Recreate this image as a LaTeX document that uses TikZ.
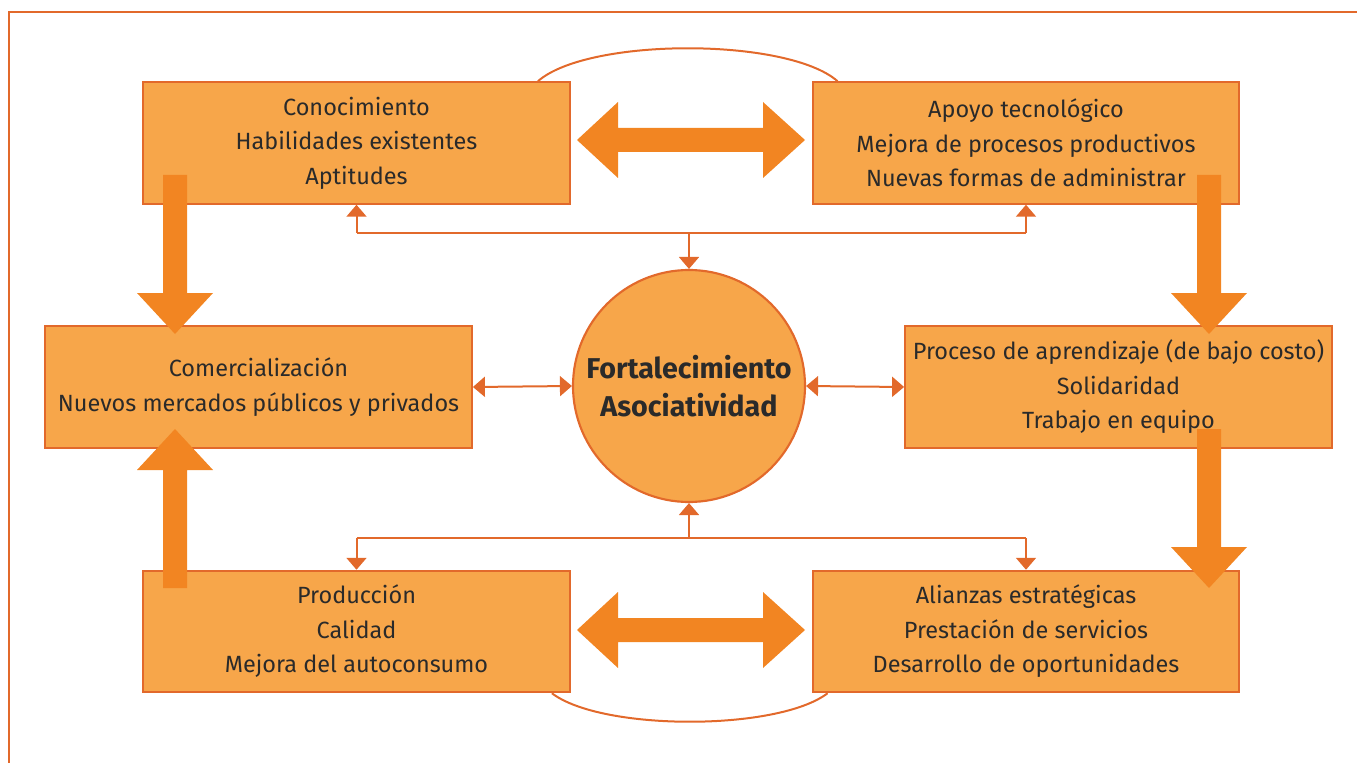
\documentclass[tikz,border=0pt]{standalone}
\usepackage{fontspec}
\setmainfont{Fira Sans}
\usepackage{tikz}
\usetikzlibrary{calc,arrows.meta}
\definecolor{boxfill}{HTML}{F7A64A}
\definecolor{boxline}{HTML}{E2692B}
\definecolor{bigarr}{HTML}{F28522}
\definecolor{txt}{HTML}{2A2A2A}

\begin{document}
\begin{tikzpicture}[x=0.75pt,y=-0.75pt,
	box/.style={draw=boxline,line width=1.6pt,fill=boxfill,minimum width=320pt,minimum height=91pt,inner sep=0pt,align=center,text=txt,font=\fontsize{17.6}{25.9}\selectfont},
	thin/.style={draw=boxline,line width=1.5pt},
	tip/.style={-{Triangle[width=15pt,length=9pt]}},
	tips/.style={{Triangle[width=15pt,length=9pt]}-{Triangle[width=15pt,length=9pt]}}]
			\clip (0,0) rectangle (1357,763);
			%frame
			\draw[boxline,line width=1.8pt] (9,12) rectangle (1420,820);
			
			%boxes
			\node[box] (b1) at (356.5,143) {Conocimiento\\Habilidades existentes\\Aptitudes};
			\node[box] (b2) at (1026,143) {Apoyo tecnológico\\Mejora de procesos productivos\\Nuevas formas de administrar};
			\node[box] (b3) at (258.5,387) {Comercialización\\Nuevos mercados públicos y privados};
			\node[box] (b4) at (1118.5,387) {Proceso de aprendizaje (de bajo costo)\\Solidaridad\\Trabajo en equipo};
			\node[box] (b5) at (356.5,631.5) {Producción\\Calidad\\Mejora del autoconsumo};
			\node[box] (b6) at (1026,631.5) {Alianzas estratégicas\\Prestación de servicios\\Desarrollo de oportunidades};
			\node[circle,draw=boxline,line width=1.6pt,fill=boxfill,minimum size=174pt,inner sep=0pt,align=center,text=txt,font=\fontsize{21.5}{28}\selectfont\bfseries] (c) at (689,386) {Fortalecimiento\\Asociatividad};
			
			%arcs
			\draw[thin] ($(b1.north east)+(-33,0)$) .. controls +(50,-44) and +(-50,-44) .. ($(b2.north west)+(26,0)$);
			\draw[thin] ($(b5.south east)+(-19,0)$) .. controls +(50,38) and +(-50,38) .. ($(b6.south west)+(16,0)$);
			
			%thin connectors
			\coordinate (up) at ($(c.north)+(0,-36)$);
			\coordinate (dn) at ($(c.south)+(0,35)$);
			\draw[thin] (up -| b1.south) -- (up -| b2.south);
			\draw[thin,tip] (up -| b1.south) -- (b1.south);
			\draw[thin,tip] (up -| b2.south) -- (b2.south);
			\draw[thin,tip] (up) -- (c.north);
			\draw[thin] (dn -| b5.north) -- (dn -| b6.north);
			\draw[thin,tip] (dn -| b5.north) -- (b5.north);
			\draw[thin,tip] (dn -| b6.north) -- (b6.north);
			\draw[thin,tip] (dn) -- (c.south);
			\draw[thin,tips] (b3.east) -- (c.west);
			\draw[thin,tips] (c.east) -- (b4.west);
			
			%big double arrows
			\foreach \y in {140,630}{
				\fill[bigarr] (577,\y) -- (618,\y-38) -- (618,\y-12) -- (763,\y-12) -- (763,\y-38) -- (805,\y) -- (763,\y+38) -- (763,\y+12) -- (618,\y+12) -- (618,\y+38) -- cycle;
			}
			
			%big vertical arrows
			\foreach \x/\ya/\yb in {175/175/334,1209/175/334,1209/429/588,175/588/429}{
				\pgfmathsetmacro{\yh}{\yb-41*sign(\yb-\ya)}
				\fill[bigarr] (\x-12,\ya) -- (\x-12,\yh) -- (\x-38,\yh) -- (\x,\yb) -- (\x+38,\yh) -- (\x+12,\yh) -- (\x+12,\ya) -- cycle;
			}
\end{tikzpicture}
\end{document}
